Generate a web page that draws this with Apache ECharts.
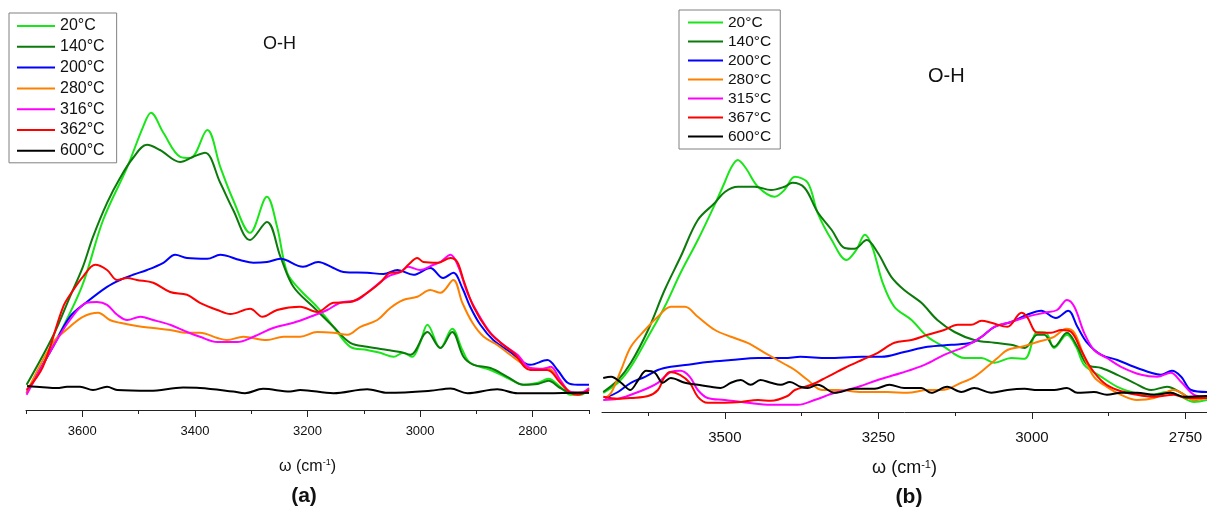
<!DOCTYPE html>
<html>
<head>
<meta charset="utf-8">
<title>O-H stretching band vs. temperature</title>
<script src="https://cdn.jsdelivr.net/npm/echarts@6/dist/echarts.min.js"></script>
<style>
  html, body { margin: 0; padding: 0; background: #fff; }
  #main { width: 1207px; height: 514px; }
</style>
</head>
<body>
<div id="main"></div>
<script>
// ---- Panel (a): wavenumber [cm^-1], intensity [a.u.] ----
const namesA = ['20°C', '140°C', '200°C', '280°C', '316°C', '362°C', '600°C'];
const a20 = [[3699,4.3],[3652,16],[3601,30.8],[3563,47.5],[3520,60.8],[3492,70.8],[3478,74.3],[3456,69.3],[3426,63.3],[3408,63],[3378,70],[3355,60.8],[3332,52.5],[3302,44.3],[3272,53.3],[3254,45.8],[3236,34.3],[3213,30],[3183,25.8],[3154,20.8],[3124,15.8],[3094,15],[3071,14.3],[3047,13.3],[3030,14.3],[3014,13.3],[3000,16.8],[2987,21.3],[2964,15.5],[2943,20.3],[2925,15],[2911,11.8],[2875,10],[2845,8],[2816,6.3],[2791,6.8],[2772,7.8],[2751,5.8],[2733,3.8],[2715,3.8],[2700,5.3]];
const a140 = [[3699,6.3],[3652,18.5],[3622,28.3],[3599,35.8],[3581,43.3],[3556,51.8],[3533,58],[3510,63],[3485,66.3],[3462,65],[3426,62],[3403,63.3],[3382,64.3],[3355,56.8],[3332,50],[3302,42.5],[3272,47],[3248,38.3],[3225,30.8],[3190,25.8],[3154,20.8],[3124,16.8],[3094,15.8],[3058,15],[3035,14.5],[3017,13.8],[2987,19.5],[2964,15.5],[2943,19.5],[2923,13.3],[2905,11.3],[2875,10.5],[2845,8.3],[2816,6.3],[2791,6.5],[2772,7.3],[2751,5.5],[2730,4.3],[2700,4.3]];
const a200 = [[3699,4.3],[3652,15.8],[3622,23.3],[3592,27],[3556,30.8],[3533,32.5],[3510,33.8],[3485,35],[3456,36.8],[3435,38.8],[3414,38],[3378,37.8],[3355,38.8],[3320,37.5],[3296,36.8],[3272,37],[3248,37.8],[3208,35.8],[3181,37],[3154,35.5],[3136,34.5],[3094,34.3],[3065,34],[3040,35],[3012,33.8],[2982,35.5],[2959,33],[2941,34.3],[2925,30.5],[2911,25.8],[2893,21.3],[2870,17.5],[2840,14.5],[2804,11.3],[2774,12.5],[2756,10],[2738,6.8],[2720,6.3],[2700,6.3]];
const a280 = [[3699,4.3],[3652,16.8],[3622,20.8],[3599,23.3],[3572,24.3],[3551,22.5],[3533,21.8],[3503,21],[3474,20.5],[3444,20],[3414,19.3],[3391,19.3],[3360,18],[3343,17.5],[3314,18.3],[3272,17.5],[3243,18.3],[3213,18.3],[3183,19.5],[3154,19.3],[3129,18.8],[3106,20.8],[3076,22.5],[3053,25.5],[3030,27.5],[3005,28.3],[2982,30],[2964,29.3],[2941,32.5],[2925,26.8],[2907,21.8],[2887,18.3],[2863,16.3],[2840,13.8],[2809,10.8],[2791,10],[2774,10.5],[2756,8.3],[2738,5],[2720,4.3],[2700,5]];
const a316 = [[3699,3.8],[3652,15.8],[3622,22.5],[3592,26.8],[3574,27],[3556,26.3],[3538,23.8],[3520,22.5],[3497,23.3],[3474,22.5],[3444,21.3],[3414,19.5],[3391,18.3],[3360,17],[3325,17],[3296,18.3],[3261,20.5],[3225,21.8],[3195,23.3],[3165,25],[3142,26.8],[3112,27.5],[3088,30],[3058,33.3],[3035,34.5],[3021,35.8],[3000,35],[2976,36.3],[2964,37],[2946,38.8],[2932,35.8],[2916,29.3],[2898,24.3],[2875,19.3],[2852,16.3],[2827,13.8],[2804,10.5],[2781,10.3],[2768,10.8],[2751,7.5],[2733,4.5],[2715,4.3],[2700,5.5]];
const a362 = [[3699,5],[3670,10.8],[3634,25.8],[3616,30],[3599,33.3],[3577,36.3],[3556,35],[3538,32.5],[3520,33],[3503,32.5],[3474,31.8],[3444,29.5],[3414,28.8],[3391,26.8],[3360,25],[3337,24],[3302,25.3],[3280,23.3],[3254,25],[3213,25.8],[3183,24.5],[3154,26.8],[3124,27],[3094,29.3],[3071,31.8],[3053,34.3],[3035,34.5],[3021,36.3],[3005,38],[2994,37],[2969,36.8],[2946,38],[2934,37],[2923,32.5],[2905,25.8],[2880,20],[2857,16.8],[2834,14.3],[2804,10],[2774,10],[2751,6.8],[2733,4.3],[2720,3.8],[2700,5]];
const a600 = [[3698,6],[3670,5.7],[3645,5.5],[3627,5.8],[3604,5.8],[3581,5],[3556,5.8],[3538,5],[3480,4.8],[3421,5.6],[3391,5.5],[3332,4.6],[3311,4.2],[3279,5.3],[3231,4.6],[3213,5],[3154,4.2],[3094,5.2],[3058,4.3],[2982,4.8],[2946,5.4],[2916,4.2],[2863,5.2],[2827,4.2],[2774,4.2],[2720,4.3],[2700,4.3]];

// ---- Panel (b) ----
const namesB = ['20°C', '140°C', '200°C', '280°C', '315°C', '367°C', '600°C'];
const b20 = [[3698,4.8],[3674,7.3],[3653,11.3],[3625,18.8],[3598,26.3],[3572,34.8],[3544,43],[3516,52],[3500,57.5],[3490,61],[3479,63],[3466,61],[3446,56.3],[3419,53.8],[3403,55.5],[3386,58.8],[3365,57.3],[3349,49.8],[3326,43],[3302,38],[3286,40.5],[3272,44.3],[3260,41.3],[3243,32.3],[3224,26.3],[3196,23],[3170,18.8],[3143,16.3],[3110,13.5],[3082,13.5],[3061,12.3],[3034,13.5],[3012,13.3],[2991,20],[2977,19.8],[2964,16],[2943,19.3],[2928,16.3],[2915,11.8],[2887,8.8],[2861,6.3],[2834,4.8],[2806,4.3],[2780,5],[2757,3.8],[2736,2.5],[2715,3]];
const b140 = [[3698,5],[3674,8],[3653,12.3],[3625,20.5],[3598,30.5],[3572,38.8],[3544,48],[3516,52.3],[3500,55],[3479,56.3],[3451,56.3],[3425,55.5],[3403,56.3],[3390,57.3],[3370,56],[3349,50],[3326,45.5],[3305,41],[3289,40.8],[3269,43],[3251,39.8],[3229,33.8],[3208,30.5],[3180,27.3],[3154,23],[3126,20],[3094,18],[3061,17.3],[3034,16.8],[3012,16],[2991,19.3],[2980,19.3],[2964,16.3],[2943,19.8],[2926,16.3],[2910,11.8],[2887,11],[2861,9.3],[2834,7.3],[2806,5.5],[2780,6.3],[2757,4.8],[2736,3],[2715,3.8]];
const b200 = [[3695,3.5],[3674,5],[3653,7.3],[3630,8.8],[3609,10.5],[3588,11.3],[3560,11.8],[3528,12.5],[3490,13],[3446,13.5],[3403,13.5],[3377,13.8],[3333,13.5],[3277,13.8],[3245,13.8],[3208,15],[3170,16.3],[3131,16.8],[3099,17.3],[3082,18.8],[3061,21.3],[3034,22.5],[3008,24.3],[2985,25.3],[2961,23.5],[2941,25.3],[2926,21.3],[2910,17.3],[2887,14.3],[2861,13],[2834,11.3],[2806,9.8],[2790,9.3],[2772,10.3],[2757,8.8],[2741,5.5],[2715,5]];
const b280 = [[3695,3.5],[3685,4.8],[3669,10.5],[3653,16.3],[3630,20.5],[3609,23.8],[3588,26.3],[3565,26.3],[3544,23.8],[3516,20.5],[3490,18.8],[3463,17.3],[3435,14.8],[3403,12],[3386,10.5],[3365,8],[3342,5.5],[3316,5.5],[3277,5],[3235,5],[3203,4.8],[3170,5.5],[3147,5.5],[3115,7.3],[3094,8.8],[3073,11.3],[3056,13.5],[3040,15.5],[3017,16.3],[2991,17.5],[2964,18.8],[2944,20.8],[2931,19.8],[2915,13.8],[2899,8.8],[2878,6.3],[2855,4.3],[2829,3],[2801,3.5],[2769,5.5],[2752,4.3],[2736,3],[2715,3.5]];
const b315 = [[3698,3],[3674,3.3],[3653,4.3],[3625,6],[3609,7.3],[3598,8.8],[3588,10],[3572,10.3],[3557,8.8],[3544,5.5],[3528,3.5],[3500,3],[3463,2.3],[3425,1.8],[3381,1.8],[3354,3],[3321,4.8],[3289,6],[3251,8],[3212,9.8],[3175,11.8],[3143,14.3],[3110,16.3],[3082,18.8],[3061,21.3],[3034,22.5],[3008,23.8],[2980,24.8],[2959,25.5],[2943,28],[2931,26.3],[2915,19.8],[2899,15.5],[2878,13.5],[2855,11.3],[2822,9.3],[2796,8.8],[2774,9.8],[2757,7.5],[2736,4.3],[2715,3.8]];
const b367 = [[3698,3.8],[3674,3.3],[3653,3.5],[3625,4],[3609,5.5],[3598,8.8],[3589,10],[3573,9.3],[3557,7.3],[3544,3.8],[3528,2.3],[3500,2.3],[3474,2.5],[3446,3],[3425,2.8],[3398,4],[3386,5.5],[3359,6.8],[3333,8.8],[3305,11],[3277,13],[3251,14.8],[3224,17.3],[3196,18],[3170,19.3],[3143,20.5],[3121,21.8],[3099,21.8],[3082,22.8],[3066,22.3],[3040,21.3],[3017,24.8],[3008,23.8],[2991,19.8],[2969,19.8],[2952,20.5],[2936,20],[2920,15.5],[2904,11],[2883,7.3],[2861,5.5],[2829,4.3],[2801,3.8],[2769,4.3],[2748,3.5],[2715,3.5]];
const b600 = [[3698,8.5],[3685,8.8],[3669,7.3],[3654,5.5],[3641,8],[3628,10.3],[3614,9.8],[3601,7.3],[3588,8.5],[3565,7.3],[3544,6.8],[3523,6.3],[3507,6],[3490,7.3],[3474,8],[3458,6.8],[3442,8],[3425,7.3],[3409,6.8],[3394,7.5],[3377,6.3],[3365,6],[3349,6.8],[3321,4.8],[3289,5.8],[3256,5.8],[3232,6.8],[3208,6],[3180,6],[3164,4.8],[3138,6.3],[3115,5],[3094,6],[3066,4.8],[3040,5.5],[3012,5.8],[2991,5.5],[2964,5.5],[2943,6],[2926,4.8],[2899,5],[2878,4.3],[2855,4.8],[2829,4.8],[2801,4.3],[2774,4.8],[2752,3.8],[2715,4]];

// tick values
const ticksA = [3600, 3400, 3200, 3000, 2800];
const minorA = [3700, 3500, 3300, 3100, 2900, 2700];
const ticksB = [3500, 3250, 3000, 2750];
const minorB = [3625, 3375, 3125, 2875];

const colors = ['#19e619', '#0b7a0b', '#0000ff', '#ff8000', '#ff00ff', '#ff0000', '#000000'];
const dataA = [a20, a140, a200, a280, a316, a362, a600];
const dataB = [b20, b140, b200, b280, b315, b367, b600];

const FONT = '"Liberation Sans", Arial, sans-serif';

function lineSeries(name, data, color, xi, yi) {
  return {
    type: 'line', name: name, data: data,
    xAxisIndex: xi, yAxisIndex: yi,
    showSymbol: false, smooth: 0.35,
    color: color,
    lineStyle: { width: 2, color: color },
    animation: false
  };
}

const series = [];
dataA.forEach((d, i) => series.push(lineSeries(namesA[i], d, colors[i], 0, 0)));
dataB.forEach((d, i) => series.push(lineSeries(namesB[i], d, colors[i], 2, 1)));

function majorAxis(grid, min, ticks, fs, margin, gap) {
  return {
    type: 'value', gridIndex: grid, position: 'bottom', min: min, max: 3700, inverse: true,
    axisLine: { show: true, lineStyle: { color: '#222', width: 1 } },
    axisTick: { show: true, length: 7, customValues: ticks, lineStyle: { color: '#222', width: 1 } },
    axisLabel: { customValues: ticks, fontSize: fs, margin: margin, color: '#111', fontFamily: FONT,
                 formatter: v => String(v) },
    splitLine: { show: false },
    name: 'ω (cm{sup|-1})', nameLocation: 'middle', nameGap: gap,
    nameTextStyle: {
      fontSize: fs + 3, color: '#111', fontFamily: FONT,
      rich: { sup: { fontSize: fs - 4, color: '#111', fontFamily: FONT, verticalAlign: 'top', padding: [0, 0, 8, 0] } }
    }
  };
}
function minorAxis(grid, min, ticks) {
  return {
    type: 'value', gridIndex: grid, position: 'bottom', offset: 0, min: min, max: 3700, inverse: true,
    axisLine: { show: false, onZero: false },
    axisTick: { show: true, length: 4, customValues: ticks, lineStyle: { color: '#222', width: 1 } },
    axisLabel: { show: false },
    splitLine: { show: false }
  };
}

function legendFor(names, o) {
  return {
    data: names, orient: 'vertical', left: o.left, top: o.top,
    icon: 'rect', itemWidth: o.iw, itemHeight: 2, itemGap: o.gap,
    padding: o.pad, borderColor: '#808080', borderWidth: 1, backgroundColor: '#fff',
    selectedMode: false,
    textStyle: { fontSize: o.fs, lineHeight: o.lh, color: '#111', fontFamily: FONT }
  };
}

const option = {
  animation: false,
  backgroundColor: '#fff',
  grid: [
    { left: 26, right: 618, top: 10, bottom: 104 },
    { left: 602, right: 0, top: 12, bottom: 102 }
  ],
  xAxis: [
    majorAxis(0, 2700, ticksA, 13, 15, 48),
    minorAxis(0, 2700, minorA),
    majorAxis(1, 2715, ticksB, 15, 18, 47),
    minorAxis(1, 2715, minorB)
  ],
  yAxis: [
    { type: 'value', gridIndex: 0, min: 0, max: 100, show: false },
    { type: 'value', gridIndex: 1, min: 0, max: 100, show: false }
  ],
  legend: [
    legendFor(namesA, { left: 9, top: 13, iw: 38, gap: 2.8, pad: [4, 12, 3, 8], fs: 16, lh: 18 }),
    legendFor(namesB, { left: 679, top: 10, iw: 35, gap: 2, pad: [4, 9, 4, 9], fs: 15.5, lh: 17 })
  ],
  graphic: [
    { type: 'text', left: 263, top: 35, style: { text: 'O-H', fontSize: 18, fill: '#111', fontFamily: FONT } },
    { type: 'text', left: 928, top: 66, style: { text: 'O-H', fontSize: 20, fill: '#111', fontFamily: FONT } },
    { type: 'text', x: 304, y: 496, style: { text: '(a)', fontSize: 21, fontWeight: 'bold', fill: '#111', fontFamily: FONT, align: 'center', verticalAlign: 'middle' } },
    { type: 'text', x: 909, y: 497, style: { text: '(b)', fontSize: 21, fontWeight: 'bold', fill: '#111', fontFamily: FONT, align: 'center', verticalAlign: 'middle' } }
  ],
  series: series
};

const chart = echarts.init(document.getElementById('main'));
chart.setOption(option);
</script>
</body>
</html>
